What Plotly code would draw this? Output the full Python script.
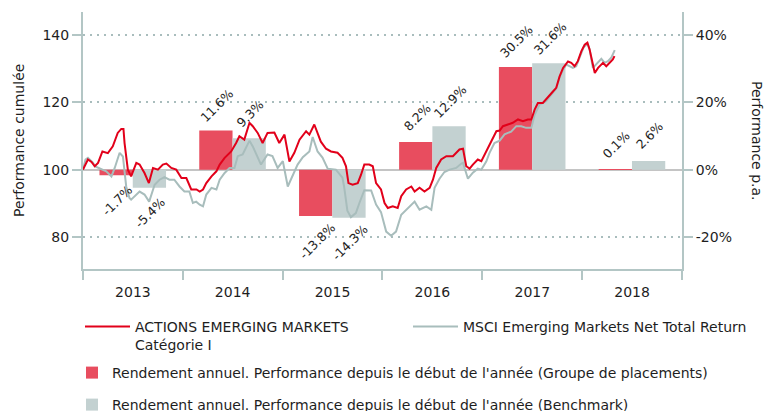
import pandas as pd
import plotly.graph_objects as go

# Annual / year-to-date returns (%)
years = [2013, 2014, 2015, 2016, 2017, 2018]
fund_ytd = [-1.7, 11.6, -13.8, 8.2, 30.5, 0.1]
bench_ytd = [-5.4, 9.3, -14.3, 12.9, 31.6, 2.6]

# Cumulative performance (start = 100)
fund_dates = [
    "2013-01-01", "2013-01-19", "2013-02-01", "2013-02-13", "2013-02-25", "2013-03-13",
    "2013-04-02", "2013-04-20", "2013-05-08", "2013-05-21", "2013-05-29", "2013-06-02",
    "2013-06-14", "2013-06-26", "2013-07-15", "2013-07-27", "2013-08-14", "2013-08-30",
    "2013-09-14", "2013-10-02", "2013-10-20", "2013-11-02", "2013-11-20", "2013-12-08",
    "2013-12-27", "2014-01-14", "2014-02-01", "2014-02-20", "2014-03-04", "2014-03-16",
    "2014-03-28", "2014-04-16", "2014-05-04", "2014-05-16", "2014-06-03", "2014-06-27",
    "2014-07-15", "2014-07-27", "2014-08-14", "2014-09-02", "2014-09-14", "2014-10-02",
    "2014-10-20", "2014-11-07", "2014-12-02", "2014-12-20", "2015-01-08", "2015-01-26",
    "2015-02-13", "2015-03-04", "2015-03-28", "2015-04-09", "2015-04-27", "2015-05-09",
    "2015-05-21", "2015-06-09", "2015-06-27", "2015-07-21", "2015-08-08", "2015-08-21",
    "2015-08-30", "2015-09-14", "2015-10-03", "2015-10-15", "2015-10-27", "2015-11-14",
    "2015-11-27", "2015-12-09", "2015-12-27", "2016-01-09", "2016-01-21", "2016-02-08",
    "2016-02-26", "2016-03-10", "2016-03-28", "2016-04-16", "2016-04-28", "2016-05-16",
    "2016-06-03", "2016-06-22", "2016-07-04", "2016-07-16", "2016-08-03", "2016-08-22",
    "2016-09-15", "2016-10-09", "2016-10-22", "2016-11-03", "2016-11-15", "2016-11-27",
    "2016-12-15", "2016-12-28", "2017-01-15", "2017-01-27", "2017-02-08", "2017-02-21",
    "2017-03-05", "2017-03-17", "2017-04-04", "2017-04-22", "2017-05-11", "2017-05-29",
    "2017-06-16", "2017-06-29", "2017-07-11", "2017-07-23", "2017-08-10", "2017-08-29",
    "2017-09-16", "2017-09-28", "2017-10-10", "2017-10-23", "2017-11-10", "2017-11-22",
    "2017-12-04", "2017-12-16", "2017-12-29", "2018-01-10", "2018-01-20", "2018-01-28",
    "2018-02-07", "2018-02-16", "2018-02-28", "2018-03-18", "2018-03-30", "2018-04-11",
    "2018-04-23", "2018-04-29",
]
fund_values = [
    100.0, 103.0, 102.3, 101.0, 102.0, 105.4,
    104.9, 106.9, 110.9, 112.1, 112.1, 107.9,
    100.0, 98.0, 102.0, 101.5, 99.0, 96.0,
    100.5, 100.0, 101.5, 101.8, 100.5, 100.0,
    97.5, 97.5, 94.1, 94.1, 93.5, 94.1,
    96.0, 98.0, 99.5, 101.5, 103.5, 105.4,
    107.9, 109.9, 108.9, 113.9, 112.9, 110.9,
    107.9, 110.9, 111.0, 107.9, 110.4, 102.4,
    105.0, 108.9, 111.4, 110.4, 113.4, 111.0,
    108.3, 106.2, 105.4, 105.0, 103.5, 101.0,
    96.0, 95.5, 96.0, 98.5, 101.5, 101.5,
    101.0, 96.0, 94.1, 90.1, 88.6, 89.1,
    88.6, 92.1, 94.1, 95.0, 93.5, 94.6,
    93.5, 94.6, 97.0, 100.5, 103.0, 104.0,
    104.0, 106.0, 106.2, 101.0, 100.3, 101.5,
    103.0, 102.5, 105.4, 107.4, 108.9, 111.4,
    111.6, 112.9, 113.4, 113.9, 114.9, 114.4,
    114.9, 114.9, 117.8, 119.8, 119.8, 121.7,
    123.2, 124.3, 127.6, 130.2, 132.1, 131.7,
    130.7, 132.2, 135.2, 137.1, 137.7, 135.7,
    131.7, 128.7, 130.2, 131.7, 130.7, 131.7,
    132.7, 133.7,
]

bench_dates = [
    "2013-01-01", "2013-01-10", "2013-01-19", "2013-02-07", "2013-02-13", "2013-03-01",
    "2013-03-27", "2013-04-15", "2013-04-27", "2013-05-15", "2013-05-27", "2013-06-08",
    "2013-06-20", "2013-06-26", "2013-07-09", "2013-07-27", "2013-08-14", "2013-08-31",
    "2013-09-20", "2013-10-08", "2013-10-26", "2013-11-13", "2013-12-01", "2013-12-20",
    "2014-01-07", "2014-01-25", "2014-02-07", "2014-02-19", "2014-03-04", "2014-03-16",
    "2014-03-28", "2014-04-16", "2014-05-04", "2014-05-16", "2014-06-03", "2014-06-21",
    "2014-07-09", "2014-07-21", "2014-08-08", "2014-09-02", "2014-09-14", "2014-10-02",
    "2014-10-14", "2014-11-07", "2014-11-25", "2014-12-14", "2015-01-02", "2015-01-20",
    "2015-02-07", "2015-02-25", "2015-03-16", "2015-04-09", "2015-04-21", "2015-05-09",
    "2015-05-27", "2015-06-15", "2015-07-15", "2015-08-08", "2015-08-14", "2015-08-26",
    "2015-09-08", "2015-09-26", "2015-10-09", "2015-10-27", "2015-11-21", "2015-12-09",
    "2015-12-27", "2016-01-15", "2016-02-02", "2016-02-20", "2016-03-10", "2016-04-03",
    "2016-04-28", "2016-05-16", "2016-06-10", "2016-06-28", "2016-07-10", "2016-07-28",
    "2016-08-15", "2016-09-03", "2016-09-27", "2016-10-16", "2016-10-22", "2016-11-09",
    "2016-11-27", "2016-12-15", "2016-12-28", "2017-01-15", "2017-01-27", "2017-02-14",
    "2017-03-05", "2017-03-23", "2017-04-16", "2017-05-05", "2017-05-23", "2017-06-10",
    "2017-06-29", "2017-07-11", "2017-07-29", "2017-08-22", "2017-09-16", "2017-09-28",
    "2017-10-10", "2017-10-23", "2017-11-04", "2017-11-28", "2017-12-10", "2017-12-22",
    "2018-01-06", "2018-01-20", "2018-01-28", "2018-02-09", "2018-02-28", "2018-03-12",
    "2018-03-24", "2018-04-05", "2018-04-17", "2018-04-30",
]
bench_values = [
    100.0, 103.0, 103.5, 102.0, 101.0, 100.5,
    99.5, 98.0, 100.5, 105.0, 103.9, 95.0,
    91.6, 91.1, 92.1, 93.5, 92.6, 90.5,
    95.5, 97.0, 97.8, 97.0, 97.0, 95.0,
    93.5, 93.5, 90.1, 90.5, 89.6, 89.1,
    92.6, 94.6, 94.1, 97.0, 99.0, 100.5,
    100.5, 104.0, 104.5, 108.6, 106.9, 103.5,
    101.5, 104.5, 104.0, 100.5, 102.5, 95.0,
    98.5, 101.5, 103.7, 105.4, 109.7, 105.4,
    103.6, 100.3, 100.0, 97.6, 95.0, 87.8,
    85.9, 87.1, 90.1, 93.9, 93.8, 89.6,
    87.4, 81.6, 80.4, 81.6, 86.6, 88.6,
    90.5, 88.1, 89.1, 88.1, 94.6, 97.3,
    99.3, 100.0, 100.5, 101.8, 102.0, 97.3,
    99.1, 100.3, 100.0, 102.4, 105.0, 107.9,
    108.6, 110.5, 111.3, 112.9, 112.9, 112.4,
    112.4, 116.3, 119.3, 120.3, 122.8, 124.1,
    127.3, 129.7, 131.2, 130.2, 130.7, 133.3,
    136.3, 137.4, 135.7, 130.2, 131.7, 132.9,
    131.7, 132.2, 133.2, 135.5,
]

RED_LINE = "#E2001A"
GREY_LINE = "#A8BDBC"
RED_BAR = "#E84D5F"
GREY_BAR = "#C3D1D1"
AXIS_COLOR = "#B3C6C5"
GRID_COLOR = "#A9BDBD"
TEXT_COLOR = "#1E1E1E"
FONT = "DejaVu Sans"

W, H = 765, 411
PW, PH, ML, MT = 599, 257, 83, 12


def paper_x(px):
    return (px - ML) / PW


def paper_y(py):
    return 1 - (py - MT) / PH


# Bars: one third of a year wide, placed either side of mid-year
YEAR_MS = 365.25 * 24 * 3600 * 1000
bar_w = YEAR_MS / 3
mids = [pd.Timestamp(f"{y}-07-02") for y in years]

fig = go.Figure()

fig.add_trace(go.Bar(
    x=mids, y=fund_ytd, width=bar_w, offset=-bar_w,
    marker=dict(color=RED_BAR, line=dict(width=0)),
    name="Rendement annuel. Performance depuis le début de l'année (Groupe de placements)",
    legend="legend2", yaxis="y", hoverinfo="skip",
))
fig.add_trace(go.Bar(
    x=mids, y=bench_ytd, width=bar_w, offset=0,
    marker=dict(color=GREY_BAR, line=dict(width=0)),
    name="Rendement annuel. Performance depuis le début de l'année (Benchmark)",
    legend="legend3", yaxis="y", hoverinfo="skip",
))

fig.add_trace(go.Scatter(
    x=bench_dates, y=bench_values, mode="lines",
    line=dict(color=GREY_LINE, width=2),
    name="MSCI Emerging Markets Net Total Return",
    legend="legend4", yaxis="y2", hoverinfo="skip",
))
fig.add_trace(go.Scatter(
    x=fund_dates, y=fund_values, mode="lines",
    line=dict(color=RED_LINE, width=2),
    name="ACTIONS EMERGING MARKETS<br>Catégorie I",
    legend="legend", yaxis="y2", hoverinfo="skip",
))

# Value labels, rotated, above positive bars and below negative ones
annotations = []
half = pd.Timedelta(milliseconds=bar_w / 2)
for mid, fv, bv in zip(mids, fund_ytd, bench_ytd):
    for xc, v in ((mid - half, fv), (mid + half, bv)):
        annotations.append(dict(
            x=xc.strftime("%Y-%m-%d %H:%M"), y=v, xref="x", yref="y",
            text=f"{v:.1f}%", showarrow=False, textangle=-45,
            xshift=1, yshift=25 if v >= 0 else -25,
            font=dict(family=FONT, size=12.5, color=TEXT_COLOR),
        ))

# Axis titles
annotations.append(dict(
    text="Performance cumulée", x=paper_x(19), y=paper_y(141), xref="paper", yref="paper",
    xanchor="center", yanchor="middle", showarrow=False, textangle=-90,
    font=dict(family=FONT, size=14, color=TEXT_COLOR),
))
annotations.append(dict(
    text="Performance p.a.", x=paper_x(757), y=paper_y(141), xref="paper", yref="paper",
    xanchor="center", yanchor="middle", showarrow=False, textangle=90,
    font=dict(family=FONT, size=14, color=TEXT_COLOR),
))

legend_font = dict(family=FONT, size=14, color=TEXT_COLOR)


def legend_box(px, py, **extra):
    return dict(
        orientation="h", xref="container", yref="container",
        x=px / W, xanchor="left", y=1 - py / H, yanchor="top",
        font=legend_font, bgcolor="rgba(0,0,0,0)", **extra,
    )


fig.update_layout(
    width=W, height=H,
    margin=dict(l=ML, r=W - ML - PW, t=MT, b=H - MT - PH, autoexpand=False),
    paper_bgcolor="white", plot_bgcolor="white",
    barmode="overlay",
    showlegend=True,
    font=dict(family=FONT, size=14, color=TEXT_COLOR),
    xaxis=dict(
        type="date", range=["2013-01-01", "2019-01-01"],
        tick0="2013-01-01", dtick="M12", tickformat="%Y", ticklabelmode="period",
        ticks="outside", ticklen=9, tickwidth=2, tickcolor=AXIS_COLOR,
        showline=True, linecolor=AXIS_COLOR, linewidth=2,
        showgrid=False, zeroline=False,
        tickfont=dict(family=FONT, size=14, color=TEXT_COLOR),
    ),
    yaxis=dict(
        side="right", range=[-29.5, 46.8],
        tickvals=[-20, 0, 20, 40], ticktext=["-20%", "0%", "20%", "40%"],
        ticks="outside", ticklen=9, tickwidth=2, tickcolor=AXIS_COLOR,
        showline=True, linecolor=AXIS_COLOR, linewidth=2,
        showgrid=True, gridcolor=GRID_COLOR, gridwidth=1.5, griddash="2px,5px",
        zeroline=True, zerolinecolor="#C4C4C4", zerolinewidth=1.5,
        tickfont=dict(family=FONT, size=14, color=TEXT_COLOR),
    ),
    yaxis2=dict(
        overlaying="y", side="left", range=[70.5, 146.8],
        tickvals=[80, 100, 120, 140],
        ticks="outside", ticklen=9, tickwidth=2, tickcolor=AXIS_COLOR,
        showline=True, linecolor=AXIS_COLOR, linewidth=2,
        showgrid=False, zeroline=False,
        tickfont=dict(family=FONT, size=14, color=TEXT_COLOR),
    ),
    legend=legend_box(80, 311, itemwidth=45, valign="top"),
    legend4=legend_box(408, 311, itemwidth=45, valign="top"),
    legend2=legend_box(72, 357),
    legend3=legend_box(72, 389),
    annotations=annotations,
)

fig.write_html("out.html")
